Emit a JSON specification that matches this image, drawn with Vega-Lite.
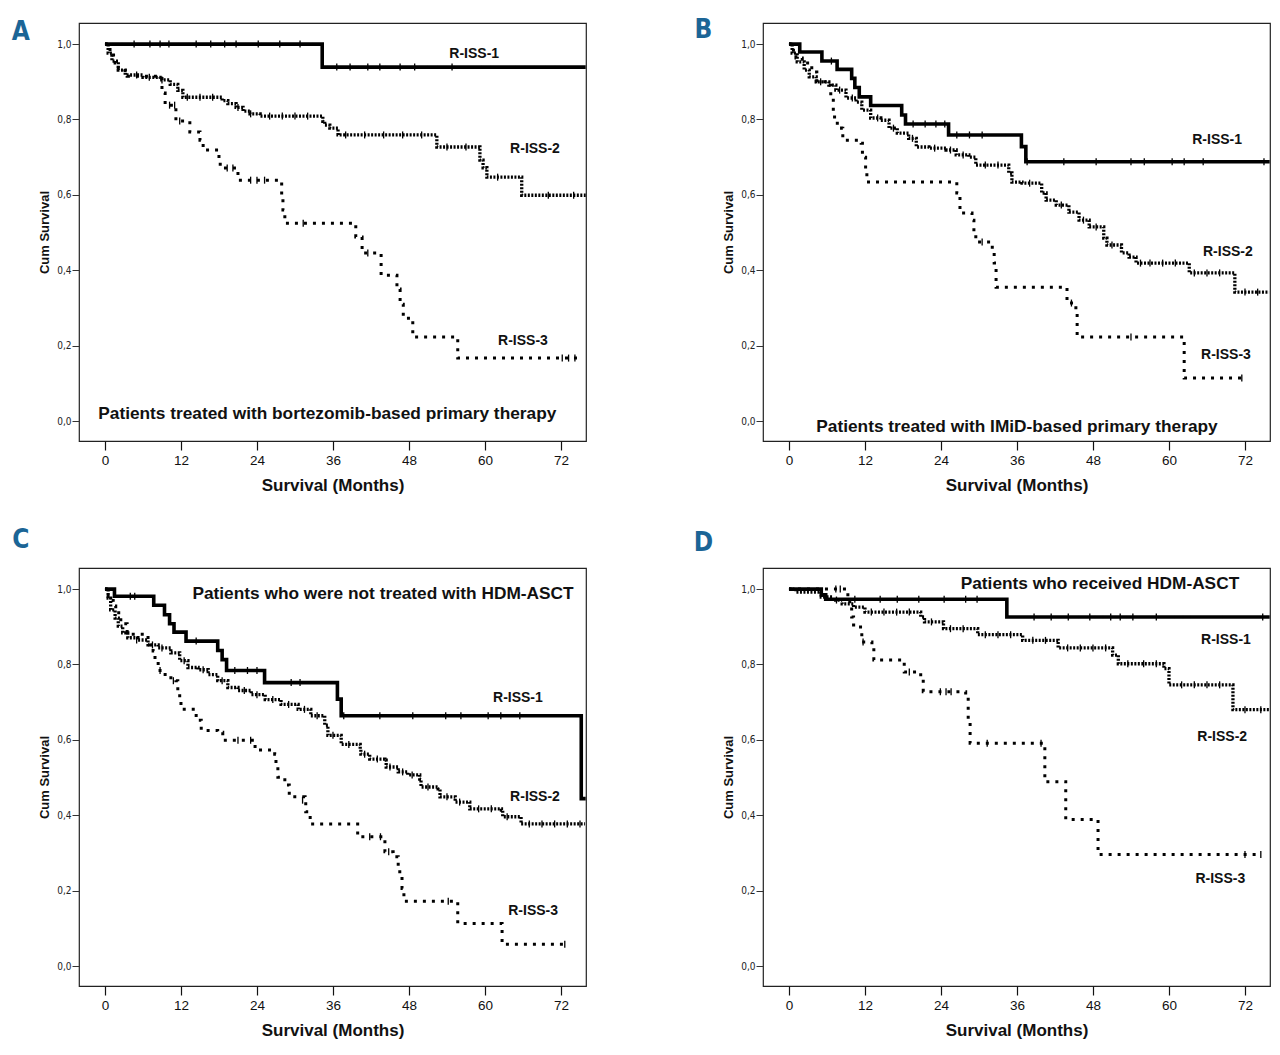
{
"$schema":"https://vega.github.io/schema/vega-lite/v6.json",
"padding":{"left":11,"top":16,"right":5,"bottom":5},
"background":"white",
"datasets":{"km":[
{"panel":"A","kind":"curve","series":"R-ISS-1","month":0,"surv":1},
{"panel":"A","kind":"curve","series":"R-ISS-1","month":34.3,"surv":0.939},
{"panel":"A","kind":"curve","series":"R-ISS-1","month":75.9,"surv":0.939},
{"panel":"A","kind":"curve","series":"R-ISS-2","month":0,"surv":1},
{"panel":"A","kind":"curve","series":"R-ISS-2","month":0.5,"surv":0.976},
{"panel":"A","kind":"curve","series":"R-ISS-2","month":1.1,"surv":0.955},
{"panel":"A","kind":"curve","series":"R-ISS-2","month":2.1,"surv":0.931},
{"panel":"A","kind":"curve","series":"R-ISS-2","month":3.2,"surv":0.918},
{"panel":"A","kind":"curve","series":"R-ISS-2","month":6,"surv":0.912},
{"panel":"A","kind":"curve","series":"R-ISS-2","month":8.7,"surv":0.905},
{"panel":"A","kind":"curve","series":"R-ISS-2","month":10.3,"surv":0.893},
{"panel":"A","kind":"curve","series":"R-ISS-2","month":11.5,"surv":0.877},
{"panel":"A","kind":"curve","series":"R-ISS-2","month":12.3,"surv":0.859},
{"panel":"A","kind":"curve","series":"R-ISS-2","month":18.5,"surv":0.85},
{"panel":"A","kind":"curve","series":"R-ISS-2","month":19.4,"surv":0.842},
{"panel":"A","kind":"curve","series":"R-ISS-2","month":20.7,"surv":0.832},
{"panel":"A","kind":"curve","series":"R-ISS-2","month":21.8,"surv":0.822},
{"panel":"A","kind":"curve","series":"R-ISS-2","month":22.9,"surv":0.815},
{"panel":"A","kind":"curve","series":"R-ISS-2","month":24.5,"surv":0.809},
{"panel":"A","kind":"curve","series":"R-ISS-2","month":34.4,"surv":0.795},
{"panel":"A","kind":"curve","series":"R-ISS-2","month":34.7,"surv":0.785},
{"panel":"A","kind":"curve","series":"R-ISS-2","month":35.5,"surv":0.777},
{"panel":"A","kind":"curve","series":"R-ISS-2","month":36.8,"surv":0.759},
{"panel":"A","kind":"curve","series":"R-ISS-2","month":52.4,"surv":0.727},
{"panel":"A","kind":"curve","series":"R-ISS-2","month":59.2,"surv":0.692},
{"panel":"A","kind":"curve","series":"R-ISS-2","month":59.7,"surv":0.672},
{"panel":"A","kind":"curve","series":"R-ISS-2","month":60.3,"surv":0.647},
{"panel":"A","kind":"curve","series":"R-ISS-2","month":65.8,"surv":0.599},
{"panel":"A","kind":"curve","series":"R-ISS-2","month":75.9,"surv":0.599},
{"panel":"A","kind":"curve","series":"R-ISS-3","month":0,"surv":1},
{"panel":"A","kind":"curve","series":"R-ISS-3","month":0.8,"surv":0.971},
{"panel":"A","kind":"curve","series":"R-ISS-3","month":1.6,"surv":0.95},
{"panel":"A","kind":"curve","series":"R-ISS-3","month":2.1,"surv":0.93},
{"panel":"A","kind":"curve","series":"R-ISS-3","month":3.5,"surv":0.915},
{"panel":"A","kind":"curve","series":"R-ISS-3","month":9.0,"surv":0.87},
{"panel":"A","kind":"curve","series":"R-ISS-3","month":9.5,"surv":0.838},
{"panel":"A","kind":"curve","series":"R-ISS-3","month":11.2,"surv":0.796},
{"panel":"A","kind":"curve","series":"R-ISS-3","month":13.4,"surv":0.767},
{"panel":"A","kind":"curve","series":"R-ISS-3","month":15.0,"surv":0.745},
{"panel":"A","kind":"curve","series":"R-ISS-3","month":15.5,"surv":0.719},
{"panel":"A","kind":"curve","series":"R-ISS-3","month":18.0,"surv":0.692},
{"panel":"A","kind":"curve","series":"R-ISS-3","month":18.2,"surv":0.671},
{"panel":"A","kind":"curve","series":"R-ISS-3","month":21.0,"surv":0.639},
{"panel":"A","kind":"curve","series":"R-ISS-3","month":27.9,"surv":0.60},
{"panel":"A","kind":"curve","series":"R-ISS-3","month":28.1,"surv":0.56},
{"panel":"A","kind":"curve","series":"R-ISS-3","month":28.4,"surv":0.525},
{"panel":"A","kind":"curve","series":"R-ISS-3","month":39.6,"surv":0.488},
{"panel":"A","kind":"curve","series":"R-ISS-3","month":40.6,"surv":0.446},
{"panel":"A","kind":"curve","series":"R-ISS-3","month":43.6,"surv":0.387},
{"panel":"A","kind":"curve","series":"R-ISS-3","month":46.1,"surv":0.35},
{"panel":"A","kind":"curve","series":"R-ISS-3","month":46.6,"surv":0.31},
{"panel":"A","kind":"curve","series":"R-ISS-3","month":47.1,"surv":0.273},
{"panel":"A","kind":"curve","series":"R-ISS-3","month":48.6,"surv":0.223},
{"panel":"A","kind":"curve","series":"R-ISS-3","month":55.7,"surv":0.167},
{"panel":"A","kind":"curve","series":"R-ISS-3","month":74.7,"surv":0.167},
{"panel":"B","kind":"curve","series":"R-ISS-1","month":0,"surv":1},
{"panel":"B","kind":"curve","series":"R-ISS-1","month":1.7,"surv":0.979},
{"panel":"B","kind":"curve","series":"R-ISS-1","month":5.2,"surv":0.955},
{"panel":"B","kind":"curve","series":"R-ISS-1","month":7.6,"surv":0.933},
{"panel":"B","kind":"curve","series":"R-ISS-1","month":9.9,"surv":0.909},
{"panel":"B","kind":"curve","series":"R-ISS-1","month":10.4,"surv":0.885},
{"panel":"B","kind":"curve","series":"R-ISS-1","month":11.1,"surv":0.86},
{"panel":"B","kind":"curve","series":"R-ISS-1","month":12.9,"surv":0.837},
{"panel":"B","kind":"curve","series":"R-ISS-1","month":17.8,"surv":0.812},
{"panel":"B","kind":"curve","series":"R-ISS-1","month":18.4,"surv":0.788},
{"panel":"B","kind":"curve","series":"R-ISS-1","month":25.2,"surv":0.759},
{"panel":"B","kind":"curve","series":"R-ISS-1","month":36.7,"surv":0.728},
{"panel":"B","kind":"curve","series":"R-ISS-1","month":37.4,"surv":0.688},
{"panel":"B","kind":"curve","series":"R-ISS-1","month":75.9,"surv":0.688},
{"panel":"B","kind":"curve","series":"R-ISS-2","month":0,"surv":1},
{"panel":"B","kind":"curve","series":"R-ISS-2","month":0.5,"surv":0.976},
{"panel":"B","kind":"curve","series":"R-ISS-2","month":1.3,"surv":0.953},
{"panel":"B","kind":"curve","series":"R-ISS-2","month":2.4,"surv":0.931},
{"panel":"B","kind":"curve","series":"R-ISS-2","month":3.2,"surv":0.913},
{"panel":"B","kind":"curve","series":"R-ISS-2","month":4.3,"surv":0.9},
{"panel":"B","kind":"curve","series":"R-ISS-2","month":6.3,"surv":0.891},
{"panel":"B","kind":"curve","series":"R-ISS-2","month":7.4,"surv":0.878},
{"panel":"B","kind":"curve","series":"R-ISS-2","month":9.0,"surv":0.857},
{"panel":"B","kind":"curve","series":"R-ISS-2","month":10.6,"surv":0.846},
{"panel":"B","kind":"curve","series":"R-ISS-2","month":11.5,"surv":0.825},
{"panel":"B","kind":"curve","series":"R-ISS-2","month":12.9,"surv":0.804},
{"panel":"B","kind":"curve","series":"R-ISS-2","month":14.5,"surv":0.798},
{"panel":"B","kind":"curve","series":"R-ISS-2","month":15.8,"surv":0.777},
{"panel":"B","kind":"curve","series":"R-ISS-2","month":17.1,"surv":0.764},
{"panel":"B","kind":"curve","series":"R-ISS-2","month":18.9,"surv":0.75},
{"panel":"B","kind":"curve","series":"R-ISS-2","month":20.1,"surv":0.727},
{"panel":"B","kind":"curve","series":"R-ISS-2","month":22.1,"surv":0.724},
{"panel":"B","kind":"curve","series":"R-ISS-2","month":24.8,"surv":0.719},
{"panel":"B","kind":"curve","series":"R-ISS-2","month":26.4,"surv":0.706},
{"panel":"B","kind":"curve","series":"R-ISS-2","month":28.4,"surv":0.7},
{"panel":"B","kind":"curve","series":"R-ISS-2","month":29.5,"surv":0.679},
{"panel":"B","kind":"curve","series":"R-ISS-2","month":34.7,"surv":0.658},
{"panel":"B","kind":"curve","series":"R-ISS-2","month":35.2,"surv":0.634},
{"panel":"B","kind":"curve","series":"R-ISS-2","month":36.8,"surv":0.631},
{"panel":"B","kind":"curve","series":"R-ISS-2","month":39.9,"surv":0.605},
{"panel":"B","kind":"curve","series":"R-ISS-2","month":40.6,"surv":0.586},
{"panel":"B","kind":"curve","series":"R-ISS-2","month":42.2,"surv":0.573},
{"panel":"B","kind":"curve","series":"R-ISS-2","month":44.2,"surv":0.554},
{"panel":"B","kind":"curve","series":"R-ISS-2","month":45.8,"surv":0.533},
{"panel":"B","kind":"curve","series":"R-ISS-2","month":47.4,"surv":0.515},
{"panel":"B","kind":"curve","series":"R-ISS-2","month":49.7,"surv":0.485},
{"panel":"B","kind":"curve","series":"R-ISS-2","month":50.2,"surv":0.467},
{"panel":"B","kind":"curve","series":"R-ISS-2","month":52.5,"surv":0.446},
{"panel":"B","kind":"curve","series":"R-ISS-2","month":53.7,"surv":0.435},
{"panel":"B","kind":"curve","series":"R-ISS-2","month":54.8,"surv":0.419},
{"panel":"B","kind":"curve","series":"R-ISS-2","month":63.2,"surv":0.393},
{"panel":"B","kind":"curve","series":"R-ISS-2","month":70.4,"surv":0.342},
{"panel":"B","kind":"curve","series":"R-ISS-2","month":75.8,"surv":0.342},
{"panel":"B","kind":"curve","series":"R-ISS-3","month":0,"surv":1},
{"panel":"B","kind":"curve","series":"R-ISS-3","month":0.3,"surv":0.984},
{"panel":"B","kind":"curve","series":"R-ISS-3","month":1.1,"surv":0.963},
{"panel":"B","kind":"curve","series":"R-ISS-3","month":2.1,"surv":0.95},
{"panel":"B","kind":"curve","series":"R-ISS-3","month":3.6,"surv":0.926},
{"panel":"B","kind":"curve","series":"R-ISS-3","month":4.4,"surv":0.9},
{"panel":"B","kind":"curve","series":"R-ISS-3","month":6.3,"surv":0.891},
{"panel":"B","kind":"curve","series":"R-ISS-3","month":6.6,"surv":0.851},
{"panel":"B","kind":"curve","series":"R-ISS-3","month":7.0,"surv":0.817},
{"panel":"B","kind":"curve","series":"R-ISS-3","month":7.2,"surv":0.79},
{"panel":"B","kind":"curve","series":"R-ISS-3","month":8.3,"surv":0.777},
{"panel":"B","kind":"curve","series":"R-ISS-3","month":8.5,"surv":0.745},
{"panel":"B","kind":"curve","series":"R-ISS-3","month":11.4,"surv":0.737},
{"panel":"B","kind":"curve","series":"R-ISS-3","month":11.6,"surv":0.7},
{"panel":"B","kind":"curve","series":"R-ISS-3","month":12.1,"surv":0.658},
{"panel":"B","kind":"curve","series":"R-ISS-3","month":12.3,"surv":0.634},
{"panel":"B","kind":"curve","series":"R-ISS-3","month":26.5,"surv":0.605},
{"panel":"B","kind":"curve","series":"R-ISS-3","month":27.0,"surv":0.552},
{"panel":"B","kind":"curve","series":"R-ISS-3","month":28.9,"surv":0.533},
{"panel":"B","kind":"curve","series":"R-ISS-3","month":29.2,"surv":0.499},
{"panel":"B","kind":"curve","series":"R-ISS-3","month":29.5,"surv":0.475},
{"panel":"B","kind":"curve","series":"R-ISS-3","month":32.1,"surv":0.454},
{"panel":"B","kind":"curve","series":"R-ISS-3","month":32.4,"surv":0.419},
{"panel":"B","kind":"curve","series":"R-ISS-3","month":32.7,"surv":0.355},
{"panel":"B","kind":"curve","series":"R-ISS-3","month":43.9,"surv":0.313},
{"panel":"B","kind":"curve","series":"R-ISS-3","month":45.3,"surv":0.289},
{"panel":"B","kind":"curve","series":"R-ISS-3","month":45.5,"surv":0.223},
{"panel":"B","kind":"curve","series":"R-ISS-3","month":62.4,"surv":0.114},
{"panel":"B","kind":"curve","series":"R-ISS-3","month":71.8,"surv":0.114},
{"panel":"C","kind":"curve","series":"R-ISS-1","month":0,"surv":1},
{"panel":"C","kind":"curve","series":"R-ISS-1","month":1.5,"surv":0.981},
{"panel":"C","kind":"curve","series":"R-ISS-1","month":7.7,"surv":0.957},
{"panel":"C","kind":"curve","series":"R-ISS-1","month":9.4,"surv":0.932},
{"panel":"C","kind":"curve","series":"R-ISS-1","month":10.2,"surv":0.908},
{"panel":"C","kind":"curve","series":"R-ISS-1","month":10.9,"surv":0.886},
{"panel":"C","kind":"curve","series":"R-ISS-1","month":12.8,"surv":0.862},
{"panel":"C","kind":"curve","series":"R-ISS-1","month":17.8,"surv":0.837},
{"panel":"C","kind":"curve","series":"R-ISS-1","month":18.5,"surv":0.813},
{"panel":"C","kind":"curve","series":"R-ISS-1","month":19.2,"surv":0.784},
{"panel":"C","kind":"curve","series":"R-ISS-1","month":25.2,"surv":0.752},
{"panel":"C","kind":"curve","series":"R-ISS-1","month":36.7,"surv":0.708},
{"panel":"C","kind":"curve","series":"R-ISS-1","month":37.3,"surv":0.664},
{"panel":"C","kind":"curve","series":"R-ISS-1","month":75.2,"surv":0.444},
{"panel":"C","kind":"curve","series":"R-ISS-1","month":75.9,"surv":0.444},
{"panel":"C","kind":"curve","series":"R-ISS-2","month":0,"surv":1},
{"panel":"C","kind":"curve","series":"R-ISS-2","month":0.5,"surv":0.976},
{"panel":"C","kind":"curve","series":"R-ISS-2","month":0.9,"surv":0.945},
{"panel":"C","kind":"curve","series":"R-ISS-2","month":1.6,"surv":0.923},
{"panel":"C","kind":"curve","series":"R-ISS-2","month":2.1,"surv":0.902},
{"panel":"C","kind":"curve","series":"R-ISS-2","month":2.8,"surv":0.884},
{"panel":"C","kind":"curve","series":"R-ISS-2","month":3.6,"surv":0.871},
{"panel":"C","kind":"curve","series":"R-ISS-2","month":5.2,"surv":0.865},
{"panel":"C","kind":"curve","series":"R-ISS-2","month":6.8,"surv":0.852},
{"panel":"C","kind":"curve","series":"R-ISS-2","month":8.4,"surv":0.844},
{"panel":"C","kind":"curve","series":"R-ISS-2","month":10.4,"surv":0.831},
{"panel":"C","kind":"curve","series":"R-ISS-2","month":11.8,"surv":0.81},
{"panel":"C","kind":"curve","series":"R-ISS-2","month":13.1,"surv":0.792},
{"panel":"C","kind":"curve","series":"R-ISS-2","month":14.7,"surv":0.786},
{"panel":"C","kind":"curve","series":"R-ISS-2","month":16.3,"surv":0.773},
{"panel":"C","kind":"curve","series":"R-ISS-2","month":17.8,"surv":0.757},
{"panel":"C","kind":"curve","series":"R-ISS-2","month":19.4,"surv":0.739},
{"panel":"C","kind":"curve","series":"R-ISS-2","month":21.0,"surv":0.731},
{"panel":"C","kind":"curve","series":"R-ISS-2","month":23.1,"surv":0.72},
{"panel":"C","kind":"curve","series":"R-ISS-2","month":25.3,"surv":0.707},
{"panel":"C","kind":"curve","series":"R-ISS-2","month":27.8,"surv":0.694},
{"panel":"C","kind":"curve","series":"R-ISS-2","month":30.5,"surv":0.681},
{"panel":"C","kind":"curve","series":"R-ISS-2","month":32.5,"surv":0.664},
{"panel":"C","kind":"curve","series":"R-ISS-2","month":34.7,"surv":0.639},
{"panel":"C","kind":"curve","series":"R-ISS-2","month":35.2,"surv":0.612},
{"panel":"C","kind":"curve","series":"R-ISS-2","month":37.3,"surv":0.588},
{"panel":"C","kind":"curve","series":"R-ISS-2","month":40.3,"surv":0.575},
{"panel":"C","kind":"curve","series":"R-ISS-2","month":40.4,"surv":0.562},
{"panel":"C","kind":"curve","series":"R-ISS-2","month":41.8,"surv":0.549},
{"panel":"C","kind":"curve","series":"R-ISS-2","month":44.2,"surv":0.546},
{"panel":"C","kind":"curve","series":"R-ISS-2","month":44.4,"surv":0.528},
{"panel":"C","kind":"curve","series":"R-ISS-2","month":46.3,"surv":0.515},
{"panel":"C","kind":"curve","series":"R-ISS-2","month":47.8,"surv":0.507},
{"panel":"C","kind":"curve","series":"R-ISS-2","month":49.7,"surv":0.496},
{"panel":"C","kind":"curve","series":"R-ISS-2","month":49.9,"surv":0.475},
{"panel":"C","kind":"curve","series":"R-ISS-2","month":52.6,"surv":0.47},
{"panel":"C","kind":"curve","series":"R-ISS-2","month":52.9,"surv":0.449},
{"panel":"C","kind":"curve","series":"R-ISS-2","month":55.3,"surv":0.435},
{"panel":"C","kind":"curve","series":"R-ISS-2","month":57.6,"surv":0.417},
{"panel":"C","kind":"curve","series":"R-ISS-2","month":62.6,"surv":0.414},
{"panel":"C","kind":"curve","series":"R-ISS-2","month":62.8,"surv":0.396},
{"panel":"C","kind":"curve","series":"R-ISS-2","month":65.7,"surv":0.377},
{"panel":"C","kind":"curve","series":"R-ISS-2","month":75.8,"surv":0.377},
{"panel":"C","kind":"curve","series":"R-ISS-3","month":0,"surv":1},
{"panel":"C","kind":"curve","series":"R-ISS-3","month":0.5,"surv":0.97},
{"panel":"C","kind":"curve","series":"R-ISS-3","month":1.3,"surv":0.955},
{"panel":"C","kind":"curve","series":"R-ISS-3","month":1.7,"surv":0.937},
{"panel":"C","kind":"curve","series":"R-ISS-3","month":2.5,"surv":0.908},
{"panel":"C","kind":"curve","series":"R-ISS-3","month":3.5,"surv":0.88},
{"panel":"C","kind":"curve","series":"R-ISS-3","month":6.8,"surv":0.852},
{"panel":"C","kind":"curve","series":"R-ISS-3","month":7.6,"surv":0.836},
{"panel":"C","kind":"curve","series":"R-ISS-3","month":7.9,"surv":0.81},
{"panel":"C","kind":"curve","series":"R-ISS-3","month":8.4,"surv":0.784},
{"panel":"C","kind":"curve","series":"R-ISS-3","month":9.5,"surv":0.765},
{"panel":"C","kind":"curve","series":"R-ISS-3","month":11.2,"surv":0.757},
{"panel":"C","kind":"curve","series":"R-ISS-3","month":11.5,"surv":0.731},
{"panel":"C","kind":"curve","series":"R-ISS-3","month":11.8,"surv":0.707},
{"panel":"C","kind":"curve","series":"R-ISS-3","month":12.0,"surv":0.681},
{"panel":"C","kind":"curve","series":"R-ISS-3","month":14.4,"surv":0.652},
{"panel":"C","kind":"curve","series":"R-ISS-3","month":15.2,"surv":0.625},
{"panel":"C","kind":"curve","series":"R-ISS-3","month":17.8,"surv":0.62},
{"panel":"C","kind":"curve","series":"R-ISS-3","month":18.6,"surv":0.599},
{"panel":"C","kind":"curve","series":"R-ISS-3","month":23.7,"surv":0.573},
{"panel":"C","kind":"curve","series":"R-ISS-3","month":26.8,"surv":0.562},
{"panel":"C","kind":"curve","series":"R-ISS-3","month":27.0,"surv":0.536},
{"panel":"C","kind":"curve","series":"R-ISS-3","month":27.3,"surv":0.501},
{"panel":"C","kind":"curve","series":"R-ISS-3","month":28.4,"surv":0.48},
{"panel":"C","kind":"curve","series":"R-ISS-3","month":29.1,"surv":0.449},
{"panel":"C","kind":"curve","series":"R-ISS-3","month":31.6,"surv":0.44},
{"panel":"C","kind":"curve","series":"R-ISS-3","month":31.7,"surv":0.409},
{"panel":"C","kind":"curve","series":"R-ISS-3","month":32.4,"surv":0.377},
{"panel":"C","kind":"curve","series":"R-ISS-3","month":39.9,"surv":0.343},
{"panel":"C","kind":"curve","series":"R-ISS-3","month":44.2,"surv":0.303},
{"panel":"C","kind":"curve","series":"R-ISS-3","month":45.5,"surv":0.29},
{"panel":"C","kind":"curve","series":"R-ISS-3","month":46.3,"surv":0.25},
{"panel":"C","kind":"curve","series":"R-ISS-3","month":46.9,"surv":0.206},
{"panel":"C","kind":"curve","series":"R-ISS-3","month":47.2,"surv":0.172},
{"panel":"C","kind":"curve","series":"R-ISS-3","month":55.7,"surv":0.113},
{"panel":"C","kind":"curve","series":"R-ISS-3","month":62.7,"surv":0.058},
{"panel":"C","kind":"curve","series":"R-ISS-3","month":73.0,"surv":0.058},
{"panel":"D","kind":"curve","series":"R-ISS-1","month":0,"surv":1},
{"panel":"D","kind":"curve","series":"R-ISS-1","month":5.1,"surv":0.985},
{"panel":"D","kind":"curve","series":"R-ISS-1","month":5.8,"surv":0.973},
{"panel":"D","kind":"curve","series":"R-ISS-1","month":34.4,"surv":0.926},
{"panel":"D","kind":"curve","series":"R-ISS-1","month":75.9,"surv":0.926},
{"panel":"D","kind":"curve","series":"R-ISS-2","month":0,"surv":1},
{"panel":"D","kind":"curve","series":"R-ISS-2","month":1.1,"surv":0.992},
{"panel":"D","kind":"curve","series":"R-ISS-2","month":5.1,"surv":0.979},
{"panel":"D","kind":"curve","series":"R-ISS-2","month":6.9,"surv":0.971},
{"panel":"D","kind":"curve","series":"R-ISS-2","month":8.4,"surv":0.961},
{"panel":"D","kind":"curve","series":"R-ISS-2","month":10.2,"surv":0.952},
{"panel":"D","kind":"curve","series":"R-ISS-2","month":12.0,"surv":0.939},
{"panel":"D","kind":"curve","series":"R-ISS-2","month":20.8,"surv":0.926},
{"panel":"D","kind":"curve","series":"R-ISS-2","month":21.4,"surv":0.913},
{"panel":"D","kind":"curve","series":"R-ISS-2","month":24.4,"surv":0.895},
{"panel":"D","kind":"curve","series":"R-ISS-2","month":29.8,"surv":0.879},
{"panel":"D","kind":"curve","series":"R-ISS-2","month":36.9,"surv":0.864},
{"panel":"D","kind":"curve","series":"R-ISS-2","month":42.5,"surv":0.844},
{"panel":"D","kind":"curve","series":"R-ISS-2","month":51.1,"surv":0.825},
{"panel":"D","kind":"curve","series":"R-ISS-2","month":52.0,"surv":0.802},
{"panel":"D","kind":"curve","series":"R-ISS-2","month":59.2,"surv":0.789},
{"panel":"D","kind":"curve","series":"R-ISS-2","month":60.0,"surv":0.746},
{"panel":"D","kind":"curve","series":"R-ISS-2","month":70.1,"surv":0.68},
{"panel":"D","kind":"curve","series":"R-ISS-2","month":75.9,"surv":0.68},
{"panel":"D","kind":"curve","series":"R-ISS-3","month":0,"surv":1},
{"panel":"D","kind":"curve","series":"R-ISS-3","month":9.3,"surv":0.979},
{"panel":"D","kind":"curve","series":"R-ISS-3","month":9.6,"surv":0.958},
{"panel":"D","kind":"curve","series":"R-ISS-3","month":9.9,"surv":0.926},
{"panel":"D","kind":"curve","series":"R-ISS-3","month":10.2,"surv":0.905},
{"panel":"D","kind":"curve","series":"R-ISS-3","month":11.3,"surv":0.886},
{"panel":"D","kind":"curve","series":"R-ISS-3","month":11.5,"surv":0.86},
{"panel":"D","kind":"curve","series":"R-ISS-3","month":13.1,"surv":0.847},
{"panel":"D","kind":"curve","series":"R-ISS-3","month":13.4,"surv":0.812},
{"panel":"D","kind":"curve","series":"R-ISS-3","month":17.8,"surv":0.807},
{"panel":"D","kind":"curve","series":"R-ISS-3","month":18.2,"surv":0.78},
{"panel":"D","kind":"curve","series":"R-ISS-3","month":20.8,"surv":0.767},
{"panel":"D","kind":"curve","series":"R-ISS-3","month":21.2,"surv":0.728},
{"panel":"D","kind":"curve","series":"R-ISS-3","month":27.9,"surv":0.714},
{"panel":"D","kind":"curve","series":"R-ISS-3","month":28.3,"surv":0.648},
{"panel":"D","kind":"curve","series":"R-ISS-3","month":28.6,"surv":0.591},
{"panel":"D","kind":"curve","series":"R-ISS-3","month":40.4,"surv":0.489},
{"panel":"D","kind":"curve","series":"R-ISS-3","month":43.7,"surv":0.389},
{"panel":"D","kind":"curve","series":"R-ISS-3","month":48.8,"surv":0.296},
{"panel":"D","kind":"curve","series":"R-ISS-3","month":74.5,"surv":0.296},
{"panel":"A","kind":"censor","month":4.6,"surv":1},{"panel":"A","kind":"censor","month":7.1,"surv":1},{"panel":"A","kind":"censor","month":8.7,"surv":1},{"panel":"A","kind":"censor","month":10.1,"surv":1},{"panel":"A","kind":"censor","month":14.4,"surv":1},{"panel":"A","kind":"censor","month":16.7,"surv":1},{"panel":"A","kind":"censor","month":18.9,"surv":1},{"panel":"A","kind":"censor","month":20.7,"surv":1},{"panel":"A","kind":"censor","month":24.2,"surv":1},{"panel":"A","kind":"censor","month":27.6,"surv":1},{"panel":"A","kind":"censor","month":30.8,"surv":1},
{"panel":"A","kind":"censor","month":36.6,"surv":0.939},{"panel":"A","kind":"censor","month":38.7,"surv":0.939},{"panel":"A","kind":"censor","month":41.5,"surv":0.939},{"panel":"A","kind":"censor","month":43.4,"surv":0.939},{"panel":"A","kind":"censor","month":46.6,"surv":0.939},{"panel":"A","kind":"censor","month":48.9,"surv":0.939},{"panel":"A","kind":"censor","month":54.8,"surv":0.939},
{"panel":"A","kind":"censor","month":5,"surv":0.918},{"panel":"A","kind":"censor","month":7,"surv":0.912},{"panel":"A","kind":"censor","month":9,"surv":0.905},{"panel":"A","kind":"censor","month":13,"surv":0.859},{"panel":"A","kind":"censor","month":15,"surv":0.859},{"panel":"A","kind":"censor","month":17,"surv":0.859},{"panel":"A","kind":"censor","month":21,"surv":0.832},{"panel":"A","kind":"censor","month":23,"surv":0.815},{"panel":"A","kind":"censor","month":26,"surv":0.809},{"panel":"A","kind":"censor","month":28,"surv":0.809},{"panel":"A","kind":"censor","month":30,"surv":0.809},{"panel":"A","kind":"censor","month":32,"surv":0.809},{"panel":"A","kind":"censor","month":38,"surv":0.759},{"panel":"A","kind":"censor","month":41,"surv":0.759},{"panel":"A","kind":"censor","month":44,"surv":0.759},{"panel":"A","kind":"censor","month":47,"surv":0.759},{"panel":"A","kind":"censor","month":50,"surv":0.759},{"panel":"A","kind":"censor","month":54,"surv":0.727},{"panel":"A","kind":"censor","month":57,"surv":0.727},{"panel":"A","kind":"censor","month":62,"surv":0.647},{"panel":"A","kind":"censor","month":70,"surv":0.599},{"panel":"A","kind":"censor","month":74,"surv":0.599},
{"panel":"A","kind":"censor","month":10.2,"surv":0.838},{"panel":"A","kind":"censor","month":11.0,"surv":0.838},{"panel":"A","kind":"censor","month":11.8,"surv":0.796},{"panel":"A","kind":"censor","month":19.3,"surv":0.671},{"panel":"A","kind":"censor","month":20.2,"surv":0.671},{"panel":"A","kind":"censor","month":23.0,"surv":0.639},{"panel":"A","kind":"censor","month":24.0,"surv":0.639},{"panel":"A","kind":"censor","month":25.2,"surv":0.639},{"panel":"A","kind":"censor","month":31.3,"surv":0.525},{"panel":"A","kind":"censor","month":41.5,"surv":0.446},{"panel":"A","kind":"censor","month":72.2,"surv":0.167},{"panel":"A","kind":"censor","month":73.2,"surv":0.167},{"panel":"A","kind":"censor","month":74.2,"surv":0.167},
{"panel":"B","kind":"censor","month":6.7,"surv":0.955},{"panel":"B","kind":"censor","month":19.6,"surv":0.788},{"panel":"B","kind":"censor","month":21.5,"surv":0.788},{"panel":"B","kind":"censor","month":23.2,"surv":0.788},{"panel":"B","kind":"censor","month":24.6,"surv":0.788},{"panel":"B","kind":"censor","month":26.5,"surv":0.759},{"panel":"B","kind":"censor","month":28.5,"surv":0.759},{"panel":"B","kind":"censor","month":30.5,"surv":0.759},{"panel":"B","kind":"censor","month":37.6,"surv":0.688},{"panel":"B","kind":"censor","month":43.4,"surv":0.688},{"panel":"B","kind":"censor","month":48.5,"surv":0.688},{"panel":"B","kind":"censor","month":54.0,"surv":0.688},{"panel":"B","kind":"censor","month":56.1,"surv":0.688},{"panel":"B","kind":"censor","month":60.5,"surv":0.688},{"panel":"B","kind":"censor","month":62.4,"surv":0.688},{"panel":"B","kind":"censor","month":65.4,"surv":0.688},{"panel":"B","kind":"censor","month":75.0,"surv":0.688},
{"panel":"B","kind":"censor","month":5,"surv":0.9},{"panel":"B","kind":"censor","month":8,"surv":0.878},{"panel":"B","kind":"censor","month":10,"surv":0.857},{"panel":"B","kind":"censor","month":14,"surv":0.804},{"panel":"B","kind":"censor","month":16.5,"surv":0.777},{"panel":"B","kind":"censor","month":19.5,"surv":0.75},{"panel":"B","kind":"censor","month":23,"surv":0.724},{"panel":"B","kind":"censor","month":25.5,"surv":0.719},{"panel":"B","kind":"censor","month":27.5,"surv":0.706},{"panel":"B","kind":"censor","month":31,"surv":0.679},{"panel":"B","kind":"censor","month":33,"surv":0.679},{"panel":"B","kind":"censor","month":38,"surv":0.631},{"panel":"B","kind":"censor","month":43,"surv":0.573},{"panel":"B","kind":"censor","month":46.5,"surv":0.533},{"panel":"B","kind":"censor","month":48.5,"surv":0.515},{"panel":"B","kind":"censor","month":51,"surv":0.467},{"panel":"B","kind":"censor","month":55.5,"surv":0.419},{"panel":"B","kind":"censor","month":57,"surv":0.419},{"panel":"B","kind":"censor","month":59,"surv":0.419},{"panel":"B","kind":"censor","month":61,"surv":0.419},{"panel":"B","kind":"censor","month":64,"surv":0.393},{"panel":"B","kind":"censor","month":66,"surv":0.393},{"panel":"B","kind":"censor","month":68,"surv":0.393},{"panel":"B","kind":"censor","month":72,"surv":0.342},{"panel":"B","kind":"censor","month":74,"surv":0.342},
{"panel":"B","kind":"censor","month":30.5,"surv":0.475},{"panel":"B","kind":"censor","month":44.6,"surv":0.313},{"panel":"B","kind":"censor","month":54.0,"surv":0.223},{"panel":"B","kind":"censor","month":71.5,"surv":0.114},
{"panel":"C","kind":"censor","month":4.0,"surv":0.981},{"panel":"C","kind":"censor","month":4.7,"surv":0.981},{"panel":"C","kind":"censor","month":14.4,"surv":0.862},{"panel":"C","kind":"censor","month":20.5,"surv":0.784},{"panel":"C","kind":"censor","month":22.5,"surv":0.784},{"panel":"C","kind":"censor","month":24.0,"surv":0.784},{"panel":"C","kind":"censor","month":29.4,"surv":0.752},{"panel":"C","kind":"censor","month":30.8,"surv":0.752},{"panel":"C","kind":"censor","month":37.7,"surv":0.664},{"panel":"C","kind":"censor","month":43.4,"surv":0.664},{"panel":"C","kind":"censor","month":48.6,"surv":0.664},{"panel":"C","kind":"censor","month":53.8,"surv":0.664},{"panel":"C","kind":"censor","month":56.2,"surv":0.664},{"panel":"C","kind":"censor","month":60.5,"surv":0.664},{"panel":"C","kind":"censor","month":62.5,"surv":0.664},{"panel":"C","kind":"censor","month":65.5,"surv":0.664},
{"panel":"C","kind":"censor","month":5,"surv":0.865},{"panel":"C","kind":"censor","month":7.5,"surv":0.852},{"panel":"C","kind":"censor","month":9,"surv":0.844},{"panel":"C","kind":"censor","month":12.5,"surv":0.81},{"panel":"C","kind":"censor","month":15.5,"surv":0.786},{"panel":"C","kind":"censor","month":18.5,"surv":0.757},{"panel":"C","kind":"censor","month":22,"surv":0.731},{"panel":"C","kind":"censor","month":24,"surv":0.72},{"panel":"C","kind":"censor","month":26.5,"surv":0.707},{"panel":"C","kind":"censor","month":29,"surv":0.694},{"panel":"C","kind":"censor","month":31.5,"surv":0.681},{"panel":"C","kind":"censor","month":33.5,"surv":0.664},{"panel":"C","kind":"censor","month":36,"surv":0.612},{"panel":"C","kind":"censor","month":38.5,"surv":0.588},{"panel":"C","kind":"censor","month":41,"surv":0.562},{"panel":"C","kind":"censor","month":43,"surv":0.549},{"panel":"C","kind":"censor","month":45,"surv":0.528},{"panel":"C","kind":"censor","month":47,"surv":0.515},{"panel":"C","kind":"censor","month":48.5,"surv":0.507},{"panel":"C","kind":"censor","month":51,"surv":0.475},{"panel":"C","kind":"censor","month":54,"surv":0.449},{"panel":"C","kind":"censor","month":56,"surv":0.435},{"panel":"C","kind":"censor","month":59,"surv":0.417},{"panel":"C","kind":"censor","month":61,"surv":0.417},{"panel":"C","kind":"censor","month":63.5,"surv":0.396},{"panel":"C","kind":"censor","month":67,"surv":0.377},{"panel":"C","kind":"censor","month":69,"surv":0.377},{"panel":"C","kind":"censor","month":71,"surv":0.377},{"panel":"C","kind":"censor","month":73,"surv":0.377},{"panel":"C","kind":"censor","month":75,"surv":0.377},
{"panel":"C","kind":"censor","month":8.7,"surv":0.784},{"panel":"C","kind":"censor","month":10.8,"surv":0.757},{"panel":"C","kind":"censor","month":21.0,"surv":0.599},{"panel":"C","kind":"censor","month":23.0,"surv":0.599},{"panel":"C","kind":"censor","month":31.2,"surv":0.44},{"panel":"C","kind":"censor","month":41.8,"surv":0.343},{"panel":"C","kind":"censor","month":43.5,"surv":0.343},{"panel":"C","kind":"censor","month":44.8,"surv":0.303},{"panel":"C","kind":"censor","month":54.2,"surv":0.172},{"panel":"C","kind":"censor","month":72.6,"surv":0.058},
{"panel":"D","kind":"censor","month":10.4,"surv":0.973},{"panel":"D","kind":"censor","month":14.4,"surv":0.973},{"panel":"D","kind":"censor","month":17.1,"surv":0.973},{"panel":"D","kind":"censor","month":20.5,"surv":0.973},{"panel":"D","kind":"censor","month":24.5,"surv":0.973},{"panel":"D","kind":"censor","month":27.9,"surv":0.973},{"panel":"D","kind":"censor","month":29.7,"surv":0.973},{"panel":"D","kind":"censor","month":38.7,"surv":0.926},{"panel":"D","kind":"censor","month":41.4,"surv":0.926},{"panel":"D","kind":"censor","month":44.1,"surv":0.926},{"panel":"D","kind":"censor","month":47.5,"surv":0.926},{"panel":"D","kind":"censor","month":50.8,"surv":0.926},{"panel":"D","kind":"censor","month":52.3,"surv":0.926},{"panel":"D","kind":"censor","month":54.3,"surv":0.926},{"panel":"D","kind":"censor","month":58.0,"surv":0.926},{"panel":"D","kind":"censor","month":74.8,"surv":0.926},
{"panel":"D","kind":"censor","month":7.5,"surv":0.971},{"panel":"D","kind":"censor","month":13,"surv":0.939},{"panel":"D","kind":"censor","month":15,"surv":0.939},{"panel":"D","kind":"censor","month":17,"surv":0.939},{"panel":"D","kind":"censor","month":19,"surv":0.939},{"panel":"D","kind":"censor","month":22.5,"surv":0.913},{"panel":"D","kind":"censor","month":25.5,"surv":0.895},{"panel":"D","kind":"censor","month":27.5,"surv":0.895},{"panel":"D","kind":"censor","month":31,"surv":0.879},{"panel":"D","kind":"censor","month":33,"surv":0.879},{"panel":"D","kind":"censor","month":35,"surv":0.879},{"panel":"D","kind":"censor","month":38.5,"surv":0.864},{"panel":"D","kind":"censor","month":40.5,"surv":0.864},{"panel":"D","kind":"censor","month":44,"surv":0.844},{"panel":"D","kind":"censor","month":46,"surv":0.844},{"panel":"D","kind":"censor","month":48,"surv":0.844},{"panel":"D","kind":"censor","month":50,"surv":0.844},{"panel":"D","kind":"censor","month":53.5,"surv":0.802},{"panel":"D","kind":"censor","month":56,"surv":0.802},{"panel":"D","kind":"censor","month":58,"surv":0.802},{"panel":"D","kind":"censor","month":62,"surv":0.746},{"panel":"D","kind":"censor","month":64,"surv":0.746},{"panel":"D","kind":"censor","month":66,"surv":0.746},{"panel":"D","kind":"censor","month":68,"surv":0.746},{"panel":"D","kind":"censor","month":72,"surv":0.68},{"panel":"D","kind":"censor","month":74.5,"surv":0.68},
{"panel":"D","kind":"censor","month":7.4,"surv":1},{"panel":"D","kind":"censor","month":8.1,"surv":1},{"panel":"D","kind":"censor","month":11.7,"surv":0.86},{"panel":"D","kind":"censor","month":19.0,"surv":0.78},{"panel":"D","kind":"censor","month":23.9,"surv":0.728},{"panel":"D","kind":"censor","month":24.8,"surv":0.728},{"panel":"D","kind":"censor","month":25.6,"surv":0.728},{"panel":"D","kind":"censor","month":31.3,"surv":0.591},{"panel":"D","kind":"censor","month":39.8,"surv":0.591},{"panel":"D","kind":"censor","month":72.0,"surv":0.296},{"panel":"D","kind":"censor","month":74.5,"surv":0.296},
{"panel":"A","kind":"label","month":58.3,"surv":0.973,"text":"R-ISS-1"},
{"panel":"A","kind":"label","month":67.9,"surv":0.721,"text":"R-ISS-2"},
{"panel":"A","kind":"label","month":66.0,"surv":0.212,"text":"R-ISS-3"},
{"panel":"B","kind":"label","month":67.6,"surv":0.745,"text":"R-ISS-1"},
{"panel":"B","kind":"label","month":69.3,"surv":0.448,"text":"R-ISS-2"},
{"panel":"B","kind":"label","month":69.0,"surv":0.175,"text":"R-ISS-3"},
{"panel":"C","kind":"label","month":65.2,"surv":0.71,"text":"R-ISS-1"},
{"panel":"C","kind":"label","month":67.9,"surv":0.449,"text":"R-ISS-2"},
{"panel":"C","kind":"label","month":67.6,"surv":0.145,"text":"R-ISS-3"},
{"panel":"D","kind":"label","month":69.0,"surv":0.865,"text":"R-ISS-1"},
{"panel":"D","kind":"label","month":68.4,"surv":0.608,"text":"R-ISS-2"},
{"panel":"D","kind":"label","month":68.1,"surv":0.23,"text":"R-ISS-3"},
{"panel":"A","kind":"title","month":35.1,"surv":0.019,"text":"Patients treated with bortezomib-based primary therapy"},
{"panel":"B","kind":"title","month":36.0,"surv":-0.016,"text":"Patients treated with IMiD-based primary therapy"},
{"panel":"C","kind":"title","month":43.9,"surv":0.987,"text":"Patients who were not treated with HDM-ASCT"},
{"panel":"D","kind":"title","month":49.1,"surv":1.013,"text":"Patients who received HDM-ASCT"},
{"panel":"A","kind":"letter","month":-13.3,"surv":1.032,"text":"A"},
{"panel":"B","kind":"letter","month":-13.5,"surv":1.037,"text":"B"},
{"panel":"C","kind":"letter","month":-13.3,"surv":1.13,"text":"C"},
{"panel":"D","kind":"letter","month":-13.5,"surv":1.122,"text":"D"}
]},
"columns":2,
"spacing":{"column":177,"row":127},
"bounds":"flush",
"concat":[
{"data":{"name":"km"},"transform":[{"filter":"datum.panel==='A'"}],"width":507,"height":418,
"encoding":{"x":{"field":"month","type":"quantitative","scale":{"domain":[-4.1,75.95],"nice":false,"zero":false},"axis":{"values":[0,12,24,36,48,60,72],"title":"Survival (Months)"}},
"y":{"field":"surv","type":"quantitative","scale":{"domain":[-0.053,1.056],"nice":false,"zero":false},"axis":{"values":[0,0.2,0.4,0.6,0.8,1.0],"title":"Cum Survival","labelExpr":"replace(format(datum.value,'.1f'),'.',',')"}}},
"layer":[
{"transform":[{"filter":"datum.kind==='curve'"}],"mark":{"type":"line","interpolate":"step-after","color":"black","strokeCap":"butt"},
"encoding":{"detail":{"field":"series","type":"nominal"},"strokeDash":{"field":"series","type":"nominal","scale":{"domain":["R-ISS-1","R-ISS-2","R-ISS-3"],"range":[[1,0],[2,1.5],[3,6]]},"legend":null},"strokeWidth":{"field":"series","type":"nominal","scale":{"domain":["R-ISS-1","R-ISS-2","R-ISS-3"],"range":[3.6,3,3]},"legend":null}}},
{"transform":[{"filter":"datum.kind==='censor'"}],"mark":{"type":"tick","orient":"vertical","size":7,"thickness":1.3,"color":"black","opacity":1}},
{"transform":[{"filter":"datum.kind==='label'"}],"mark":{"type":"text","font":"Liberation Sans","fontSize":14,"fontWeight":"bold","color":"#111"},"encoding":{"text":{"field":"text"}}},
{"transform":[{"filter":"datum.kind==='title'"}],"mark":{"type":"text","font":"Liberation Sans","fontSize":17.3,"fontWeight":"bold","color":"#111"},"encoding":{"text":{"field":"text"}}},
{"transform":[{"filter":"datum.kind==='letter'"}],"mark":{"type":"text","font":"DejaVu Sans Condensed","fontSize":26,"fontWeight":"bold","color":"#1b6596"},"encoding":{"text":{"field":"text"}}}
]},
{"data":{"name":"km"},"transform":[{"filter":"datum.panel==='B'"}],"width":507,"height":418,
"encoding":{"x":{"field":"month","type":"quantitative","scale":{"domain":[-4.1,75.95],"nice":false,"zero":false},"axis":{"values":[0,12,24,36,48,60,72],"title":"Survival (Months)"}},
"y":{"field":"surv","type":"quantitative","scale":{"domain":[-0.053,1.056],"nice":false,"zero":false},"axis":{"values":[0,0.2,0.4,0.6,0.8,1.0],"title":"Cum Survival","labelExpr":"replace(format(datum.value,'.1f'),'.',',')"}}},
"layer":[
{"transform":[{"filter":"datum.kind==='curve'"}],"mark":{"type":"line","interpolate":"step-after","color":"black","strokeCap":"butt"},
"encoding":{"detail":{"field":"series","type":"nominal"},"strokeDash":{"field":"series","type":"nominal","scale":{"domain":["R-ISS-1","R-ISS-2","R-ISS-3"],"range":[[1,0],[2,1.5],[3,6]]},"legend":null},"strokeWidth":{"field":"series","type":"nominal","scale":{"domain":["R-ISS-1","R-ISS-2","R-ISS-3"],"range":[3.6,3,3]},"legend":null}}},
{"transform":[{"filter":"datum.kind==='censor'"}],"mark":{"type":"tick","orient":"vertical","size":7,"thickness":1.3,"color":"black","opacity":1}},
{"transform":[{"filter":"datum.kind==='label'"}],"mark":{"type":"text","font":"Liberation Sans","fontSize":14,"fontWeight":"bold","color":"#111"},"encoding":{"text":{"field":"text"}}},
{"transform":[{"filter":"datum.kind==='title'"}],"mark":{"type":"text","font":"Liberation Sans","fontSize":17.3,"fontWeight":"bold","color":"#111"},"encoding":{"text":{"field":"text"}}},
{"transform":[{"filter":"datum.kind==='letter'"}],"mark":{"type":"text","font":"DejaVu Sans Condensed","fontSize":26,"fontWeight":"bold","color":"#1b6596"},"encoding":{"text":{"field":"text"}}}
]},
{"data":{"name":"km"},"transform":[{"filter":"datum.panel==='C'"}],"width":507,"height":418,
"encoding":{"x":{"field":"month","type":"quantitative","scale":{"domain":[-4.1,75.95],"nice":false,"zero":false},"axis":{"values":[0,12,24,36,48,60,72],"title":"Survival (Months)"}},
"y":{"field":"surv","type":"quantitative","scale":{"domain":[-0.053,1.056],"nice":false,"zero":false},"axis":{"values":[0,0.2,0.4,0.6,0.8,1.0],"title":"Cum Survival","labelExpr":"replace(format(datum.value,'.1f'),'.',',')"}}},
"layer":[
{"transform":[{"filter":"datum.kind==='curve'"}],"mark":{"type":"line","interpolate":"step-after","color":"black","strokeCap":"butt"},
"encoding":{"detail":{"field":"series","type":"nominal"},"strokeDash":{"field":"series","type":"nominal","scale":{"domain":["R-ISS-1","R-ISS-2","R-ISS-3"],"range":[[1,0],[2,1.5],[3,6]]},"legend":null},"strokeWidth":{"field":"series","type":"nominal","scale":{"domain":["R-ISS-1","R-ISS-2","R-ISS-3"],"range":[3.6,3,3]},"legend":null}}},
{"transform":[{"filter":"datum.kind==='censor'"}],"mark":{"type":"tick","orient":"vertical","size":7,"thickness":1.3,"color":"black","opacity":1}},
{"transform":[{"filter":"datum.kind==='label'"}],"mark":{"type":"text","font":"Liberation Sans","fontSize":14,"fontWeight":"bold","color":"#111"},"encoding":{"text":{"field":"text"}}},
{"transform":[{"filter":"datum.kind==='title'"}],"mark":{"type":"text","font":"Liberation Sans","fontSize":17.3,"fontWeight":"bold","color":"#111"},"encoding":{"text":{"field":"text"}}},
{"transform":[{"filter":"datum.kind==='letter'"}],"mark":{"type":"text","font":"DejaVu Sans Condensed","fontSize":26,"fontWeight":"bold","color":"#1b6596"},"encoding":{"text":{"field":"text"}}}
]},
{"data":{"name":"km"},"transform":[{"filter":"datum.panel==='D'"}],"width":507,"height":418,
"encoding":{"x":{"field":"month","type":"quantitative","scale":{"domain":[-4.1,75.95],"nice":false,"zero":false},"axis":{"values":[0,12,24,36,48,60,72],"title":"Survival (Months)"}},
"y":{"field":"surv","type":"quantitative","scale":{"domain":[-0.053,1.056],"nice":false,"zero":false},"axis":{"values":[0,0.2,0.4,0.6,0.8,1.0],"title":"Cum Survival","labelExpr":"replace(format(datum.value,'.1f'),'.',',')"}}},
"layer":[
{"transform":[{"filter":"datum.kind==='curve'"}],"mark":{"type":"line","interpolate":"step-after","color":"black","strokeCap":"butt"},
"encoding":{"detail":{"field":"series","type":"nominal"},"strokeDash":{"field":"series","type":"nominal","scale":{"domain":["R-ISS-1","R-ISS-2","R-ISS-3"],"range":[[1,0],[2,1.5],[3,6]]},"legend":null},"strokeWidth":{"field":"series","type":"nominal","scale":{"domain":["R-ISS-1","R-ISS-2","R-ISS-3"],"range":[3.6,3,3]},"legend":null}}},
{"transform":[{"filter":"datum.kind==='censor'"}],"mark":{"type":"tick","orient":"vertical","size":7,"thickness":1.3,"color":"black","opacity":1}},
{"transform":[{"filter":"datum.kind==='label'"}],"mark":{"type":"text","font":"Liberation Sans","fontSize":14,"fontWeight":"bold","color":"#111"},"encoding":{"text":{"field":"text"}}},
{"transform":[{"filter":"datum.kind==='title'"}],"mark":{"type":"text","font":"Liberation Sans","fontSize":17.3,"fontWeight":"bold","color":"#111"},"encoding":{"text":{"field":"text"}}},
{"transform":[{"filter":"datum.kind==='letter'"}],"mark":{"type":"text","font":"DejaVu Sans Condensed","fontSize":26,"fontWeight":"bold","color":"#1b6596"},"encoding":{"text":{"field":"text"}}}
]}
],
"config":{
"view":{"stroke":"#222","strokeWidth":1.2},
"text":{"align":"center","baseline":"middle"},
"axis":{"labelFlush":false,"domain":false,"grid":false,"titleFont":"Liberation Sans","titleFontWeight":"bold","titleColor":"#111"},
"axisX":{"tickSize":9,"tickColor":"#111","tickWidth":1.2,"labelFontSize":13.5,"labelFont":"Liberation Sans","labelColor":"#111","labelPadding":3,"titleFontSize":17,"titlePadding":11},
"axisY":{"tickSize":7,"tickColor":"#333","tickWidth":1,"labelFontSize":10,"labelFont":"DejaVu Sans Condensed","labelColor":"#222","labelPadding":1,"titleFontSize":13,"titlePadding":5}
}
}
